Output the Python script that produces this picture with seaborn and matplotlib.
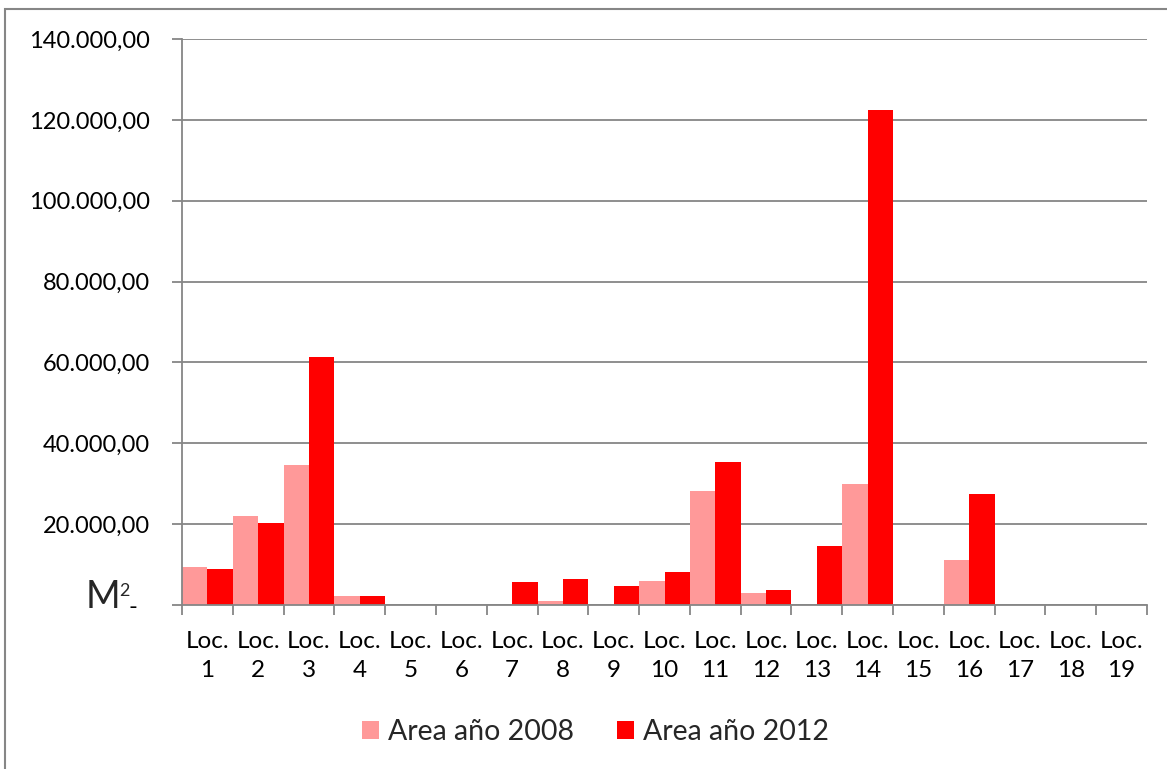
import matplotlib
matplotlib.use("Agg")
import matplotlib.pyplot as plt
from matplotlib.patches import Rectangle, Patch
from matplotlib.ticker import FixedLocator, FuncFormatter
import numpy as np
import pandas as pd
import seaborn as sns

# Built-up area per locality (m²)
localidades = [f"Loc.\n{i}" for i in range(1, 20)]
area_2008 = [9400, 22000, 34600, 2300, 0, 0, 0, 1000, 0, 5900,
             28200, 3000, 0, 29900, 0, 11100, 0, 0, 0]
area_2012 = [8900, 20400, 61300, 2300, 0, 0, 5700, 6400, 4700, 8100,
             35400, 3700, 14600, 122400, 0, 27400, 0, 0, 0]
series = ["Area año 2008", "Area año 2012"]
colores = ["#FF9999", "#FF0000"]

df = pd.DataFrame({
    "Localidad": localidades * 2,
    "Area": area_2008 + area_2012,
    "Serie": [series[0]] * len(localidades) + [series[1]] * len(localidades),
})

sns.set_style("white")
plt.rcParams["font.family"] = ["Lato", "DejaVu Sans"]

W, H = 1167, 769
fig = plt.figure(figsize=(W / 100, H / 100), dpi=100)
ax = fig.add_axes([182 / W, 1 - 605 / H, (1147 - 182) / W, (605 - 39) / H])

sns.barplot(data=df, x="Localidad", y="Area", hue="Serie", palette=colores,
            width=1.0, saturation=1, ax=ax, legend=False, linewidth=0)

grid = "#868686"
ax.set_ylim(0, 140000)
ax.set_xlim(-0.5, len(localidades) - 0.5)
ax.yaxis.set_major_locator(FixedLocator(np.arange(0, 140001, 20000)))


def fmt_es(v, pos):
    if v == 0:
        return "-  "
    s = f"{v:,.2f}"
    return s.replace(",", "X").replace(".", ",").replace("X", ".")


ax.yaxis.set_major_formatter(FuncFormatter(fmt_es))
ax.yaxis.grid(True, color=grid, linewidth=1.3)
ax.set_axisbelow(True)

for s in ["top", "right"]:
    ax.spines[s].set_visible(False)
for s in ["left", "bottom"]:
    ax.spines[s].set_color(grid)
    ax.spines[s].set_linewidth(1.3)

ax.tick_params(axis="y", length=7.2, width=1.3, color=grid, pad=16,
               labelsize=17, labelcolor="black", left=True)
ax.set_xticks(range(len(localidades)))
ax.set_xticklabels(localidades, linespacing=1.45)
ax.tick_params(axis="x", which="major", length=0, pad=19, labelsize=17.5,
               labelcolor="black")
ax.set_xticks(np.arange(-0.5, len(localidades), 1.0), minor=True)
ax.tick_params(axis="x", which="minor", length=7.2, width=1.3, color=grid,
               bottom=True)
ax.set_xlabel("")
ax.set_ylabel("")

# Unit label beside the zero tick
fig.text(86 / W, 1 - 608 / H, "M", fontsize=27, ha="left", va="baseline")
fig.text(119 / W, 1 - 596 / H, "2", fontsize=13, ha="left", va="baseline")

# Chart frame
fig.patches.append(Rectangle((5 / W, -0.05), 1.2, 1 - 9 / H + 0.05,
                             transform=fig.transFigure, fill=False,
                             edgecolor=grid, linewidth=1.5))

handles = [Patch(facecolor=c, edgecolor="none") for c in colores]
fig.legend(handles, series, loc="center", bbox_to_anchor=(0.51, 1 - 732 / H),
           ncol=2, frameon=False, fontsize=20.5, handlelength=0.62,
           handleheight=0.62, handletextpad=0.3, columnspacing=1.5)

fig.savefig("out.png", dpi=100)
